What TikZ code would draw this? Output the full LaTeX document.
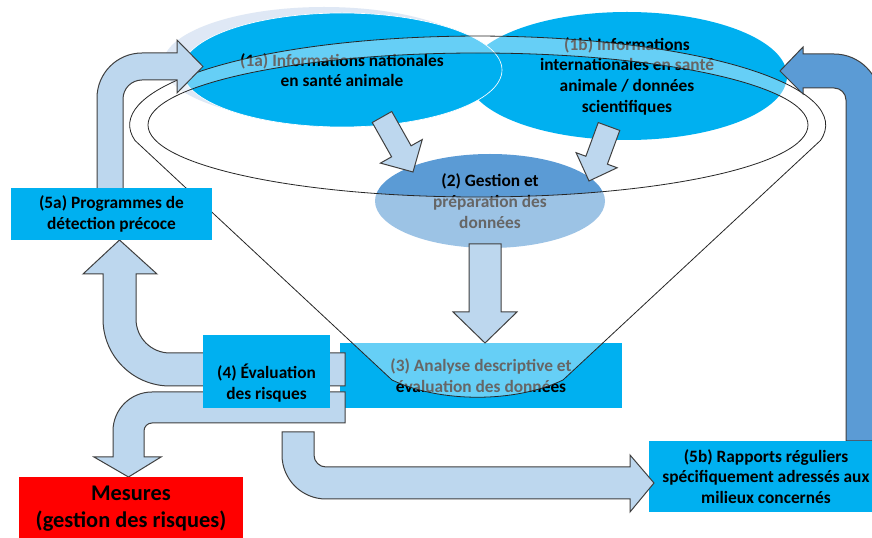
\documentclass[tikz,border=0pt]{standalone}
\usepackage{fontspec}
\setmainfont{Carlito}
\usetikzlibrary{shapes.geometric,calc}

\definecolor{cyanvif}{HTML}{00B0F0}
\definecolor{bleupale}{HTML}{BDD7EE}
\definecolor{bleumoyen}{HTML}{5B9BD5}
\definecolor{ombre}{HTML}{DFE8F5}
\definecolor{contour}{HTML}{404040}

\tikzset{
  texte/.style={font=\bfseries\fontsize{13}{15.5}\selectfont, align=center, inner sep=0pt},
  boite/.style={fill=cyanvif, inner sep=0pt},
  bloc/.style={fill=bleupale, draw=contour, line width=0.75pt},
  entonnoir/.style={draw=black!85, line width=0.6pt},
}

\newcommand{\flechebloc}[5]{%
  \path ($(#2)!#5!(#1)$) coordinate (fb-base);
  \draw[bloc] ($(#1)!#3!90:(#2)$) -- ($(fb-base)!#3!-90:(#1)$) -- ($(fb-base)!#4!-90:(#1)$)
    -- (#2) -- ($(fb-base)!#4!90:(#1)$) -- ($(fb-base)!#3!90:(#1)$) -- ($(#1)!#3!-90:(#2)$) -- cycle;
}

\begin{document}
\begin{tikzpicture}[x=0.75pt,y=-0.75pt]
\clip (0,0) rectangle (872,538);
\fill[white] (0,0) rectangle (872,538);

\fill[ombre] (324,64) ellipse[x radius=161, y radius=57];
\node[ellipse, fill=cyanvif, minimum width=240pt, minimum height=96pt, texte] (info1b) at (627,76) {(1b) Informations\\internationales en santé\\animale / données\\scientifiques};
\node[ellipse, fill=cyanvif, draw=white, line width=0.5pt, minimum width=240pt, minimum height=85.5pt, texte] (info1a) at (342,70) {(1a) Informations nationales\\en santé animale};

\node[ellipse, fill=bleumoyen, minimum width=172.5pt, minimum height=70.5pt, texte] (gestion2) at (490,201) {(2) Gestion et\\préparation des\\données};
\node[boite, minimum width=211.5pt, minimum height=48.75pt, texte] (analyse3) at (481,375.5) {(3) Analyse descriptive et\\évaluation des données};

\coordinate (a1) at (382,117);
\coordinate (a2) at (413,172);
\coordinate (b1) at (609,126.5);
\coordinate (b2) at (589,181);
\flechebloc{a1}{a2}{8.4pt}{18pt}{17.8pt}
\flechebloc{b1}{b2}{8.6pt}{16.4pt}{16.6pt}

\fill[white, fill opacity=0.4, even odd rule] (135,140.5) arc[start angle=170, end angle=370, x radius=348, y radius=89]
  -- (563,380) .. controls (515,403) and (440,403) .. (392,380) -- cycle
  (478,125) ellipse[x radius=330, y radius=72];
\draw[entonnoir] (135,140.5) arc[start angle=170, end angle=370, x radius=348, y radius=89]
  -- (563,380) .. controls (515,403) and (440,403) .. (392,380) -- cycle;
\draw[entonnoir] (478,125) ellipse[x radius=330, y radius=72];

\draw[bloc] (97,190) -- (97,98) arc[start angle=180, end angle=270, radius=45] -- (177,53) -- (177,40) -- (203,66.5)
  -- (177,93) -- (177,80) -- (142,80) arc[start angle=270, end angle=180, radius=19] -- (123,190) -- cycle;

\coordinate (c1) at (485,244);
\coordinate (c2) at (485,343);
\flechebloc{c1}{c2}{12pt}{24pt}{23.3pt}

\draw[bloc] (345,353) -- (170,353) arc[start angle=90, end angle=180, radius=34] -- (136,274) -- (157,274) -- (119.5,240)
  -- (83,274) -- (103,274) -- (103,319) arc[start angle=180, end angle=90, radius=67] -- (345,386) -- cycle;
\draw[bloc] (345,392) -- (152,392) arc[start angle=270, end angle=180, radius=39] -- (113,457) -- (94,457) -- (128.5,477)
  -- (161,457) -- (144,457) -- (144,431) arc[start angle=180, end angle=270, radius=8] -- (345,423) -- cycle;

\node[boite, minimum width=95.25pt, minimum height=54.75pt] (eval4) at (266.5,371.5) {};
\node[texte] (eval4txt) at (266.5,383) {(4) Évaluation\\des risques};
\node[boite, minimum width=150.75pt, minimum height=39pt, texte] (detect5a) at (111.5,214) {(5a) Programmes de\\détection précoce};

\draw[bloc, fill=bleumoyen] (846,441) -- (846,100) arc[start angle=0, end angle=-90, radius=12] -- (803,88) -- (803,94) -- (780,71)
  -- (803,47) -- (803,54) -- (834,54) arc[start angle=-90, end angle=0, radius=46] -- (880,441) -- cycle;
\node[boite, minimum width=177pt, minimum height=53.25pt] (rapports5b) at (767,476.5) {};
\node[texte] (rapports5btxt) at (766,476.5) {(5b) Rapports réguliers\\spécifiquement adressés aux\\milieux concernés};
\draw[bloc] (282,432) -- (314,432) -- (314,455) arc[start angle=180, end angle=90, radius=12] -- (630,467) -- (630,455) -- (654,483)
  -- (630,512) -- (630,499) -- (326,499) arc[start angle=90, end angle=180, radius=44] -- cycle;

\node[fill=red, minimum width=168pt, minimum height=47.25pt, align=center, inner sep=0pt, font=\bfseries\fontsize{16.8}{20}\selectfont] (mesures) at (131,508.5) {Mesures\\(gestion des risques)};
\end{tikzpicture}
\end{document}
